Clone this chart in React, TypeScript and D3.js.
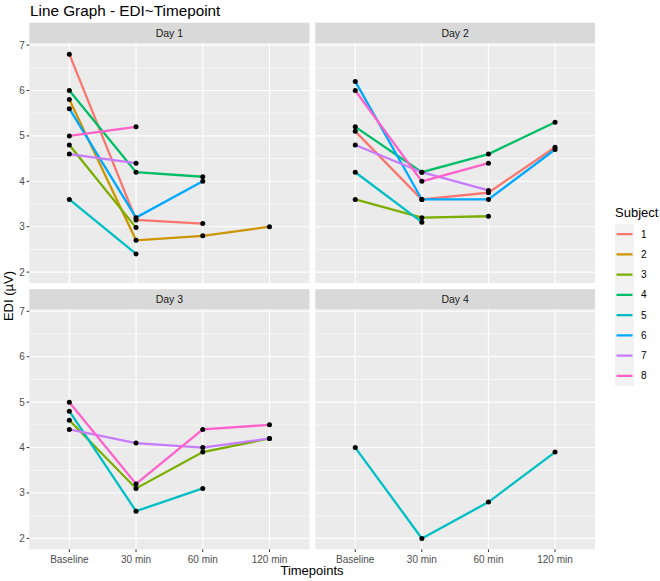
import React from "react";
import * as d3 from "d3";

const timepoints = ["Baseline", "30 min", "60 min", "120 min"];
const subjects = ["1", "2", "3", "4", "5", "6", "7", "8"];
const subjectColors = ["#F8766D", "#CD9600", "#7CAE00", "#00BE67", "#00BFC4", "#00A9FF", "#C77CFF", "#FF61CC"];
const days = ["Day 1", "Day 2", "Day 3", "Day 4"];
const yTicks = [2, 3, 4, 5, 6, 7];

// values per subject (rows) per timepoint (cols); null = missing
const day1Values: (number | null)[][] = [
  [6.8, 3.15, 3.07, null],
  [5.8, 2.7, 2.8, 3.0],
  [4.8, 2.98, null, null],
  [6.0, 4.2, 4.1, null],
  [3.6, 2.4, null, null],
  [5.6, 3.2, 4.0, null],
  [4.6, 4.4, null, null],
  [5.0, 5.2, null, null],
];
const day2Values: (number | null)[][] = [
  [5.1, 3.6, 3.75, 4.75],
  [null, null, null, null],
  [3.6, 3.2, 3.23, null],
  [5.2, 4.2, 4.6, 5.3],
  [4.2, 3.1, null, null],
  [6.2, 3.6, 3.6, 4.7],
  [4.8, 4.2, 3.8, null],
  [6.0, 4.0, 4.4, null],
];
const day3Values: (number | null)[][] = [
  [null, null, null, null],
  [null, null, null, null],
  [4.6, 3.1, 3.9, 4.2],
  [null, null, null, null],
  [4.8, 2.6, 3.1, null],
  [null, null, null, null],
  [4.4, 4.1, 4.0, 4.2],
  [5.0, 3.2, 4.4, 4.5],
];
const day4Values: (number | null)[][] = [
  [null, null, null, null],
  [null, null, null, null],
  [null, null, null, null],
  [null, null, null, null],
  [4.0, 2.0, 2.8, 3.9],
  [null, null, null, null],
  [null, null, null, null],
  [null, null, null, null],
];
const dayValues = [day1Values, day2Values, day3Values, day4Values];

const FONT = "'Liberation Sans', Arial, Helvetica, sans-serif";

const colX = [[29.3, 309.5], [315.3, 595]];
const rowY = [
  { stripTop: 22.7, top: 43.3, bottom: 283 },
  { stripTop: 289.2, top: 309.5, bottom: 549.3 },
];

function Panel({ idx }: { idx: number }) {
  const col = idx % 2;
  const row = Math.floor(idx / 2);
  const [x0, x1] = colX[col];
  const { stripTop, top, bottom } = rowY[row];
  const x = d3.scalePoint<string>().domain(timepoints).range([x0, x1]).padding(0.6);
  const y = d3.scaleLinear().domain([1.76, 7.04]).range([bottom, top]);
  const minor = [2.5, 3.5, 4.5, 5.5, 6.5];
  const values = dayValues[idx];
  const line = d3
    .line<[string, number | null]>()
    .defined((d) => d[1] !== null)
    .x((d) => x(d[0]) as number)
    .y((d) => y(d[1] as number));
  return (
    <g>
      <rect x={x0} y={stripTop} width={x1 - x0} height={top - stripTop} fill="#d9d9d9" />
      <text x={(x0 + x1) / 2} y={(stripTop + top) / 2 + 3.8} textAnchor="middle" fontSize={10.5} fill="#1a1a1a" fontFamily={FONT}>
        {days[idx]}
      </text>
      <rect x={x0} y={top} width={x1 - x0} height={bottom - top} fill="#ebebeb" />
      {minor.map((v) => (
        <line key={"m" + v} x1={x0} x2={x1} y1={y(v)} y2={y(v)} stroke="#fff" strokeWidth={0.55} />
      ))}
      {yTicks.map((v) => (
        <line key={"g" + v} x1={x0} x2={x1} y1={y(v)} y2={y(v)} stroke="#fff" strokeWidth={1.1} />
      ))}
      {timepoints.map((t) => (
        <line key={"v" + t} x1={x(t)} x2={x(t)} y1={top} y2={bottom} stroke="#fff" strokeWidth={1.1} />
      ))}
      {values.map((vals, s) => {
        const pts = timepoints.map((t, i) => [t, vals[i]] as [string, number | null]);
        const present = pts.filter((p) => p[1] !== null);
        if (present.length < 2) return null;
        return (
          <path key={"l" + s} d={line(pts) || ""} fill="none" stroke={subjectColors[s]} strokeWidth={2.3} />
        );
      })}
      {values.map((vals, s) =>
        timepoints.map((t, i) =>
          vals[i] === null ? null : (
            <circle key={"p" + s + "-" + i} cx={x(t)} cy={y(vals[i] as number)} r={2.5} fill="#000" />
          )
        )
      )}
      {col === 0 &&
        yTicks.map((v) => (
          <g key={"yt" + v}>
            <line x1={x0 - 2.7} x2={x0} y1={y(v)} y2={y(v)} stroke="#333" strokeWidth={1} />
            <text x={x0 - 4.5} y={y(v) + 3.5} textAnchor="end" fontSize={10} fill="#4d4d4d" fontFamily={FONT}>
              {v}
            </text>
          </g>
        ))}
      {row === 1 &&
        timepoints.map((t) => (
          <g key={"xt" + t}>
            <line x1={x(t)} x2={x(t)} y1={bottom} y2={bottom + 2.7} stroke="#333" strokeWidth={1} />
            <text x={x(t)} y={bottom + 13.5} textAnchor="middle" fontSize={10} fill="#4d4d4d" fontFamily={FONT}>
              {t}
            </text>
          </g>
        ))}
    </g>
  );
}

export default function App() {
  const legendTop = 224;
  const keyH = 20.25;
  return (
    <svg width={660} height={581} style={{ position: "absolute", left: 0, top: 0, background: "#fff" }}>
      <rect x={0} y={0} width={660} height={581} fill="#fff" />
      <text x={30} y={16} fontSize={15.3} fill="#000" fontFamily={FONT}>
        Line Graph - EDI~Timepoint
      </text>
      {days.map((d, i) => (
        <Panel key={d} idx={i} />
      ))}
      <text x={312} y={575} textAnchor="middle" fontSize={13} fill="#000" fontFamily={FONT}>
        Timepoints
      </text>
      <text transform={`translate(12.5,296) rotate(-90)`} textAnchor="middle" fontSize={13} fill="#000" fontFamily={FONT}>
        EDI (µV)
      </text>
      <text x={615} y={216.5} fontSize={13} fill="#000" fontFamily={FONT}>
        Subject
      </text>
      {subjects.map((s, i) => {
        const yTop = legendTop + i * keyH;
        return (
          <g key={"lg" + s}>
            <rect x={615} y={yTop} width={19} height={keyH} fill="#f2f2f2" />
            <line x1={616.5} x2={632.5} y1={yTop + keyH / 2} y2={yTop + keyH / 2} stroke={subjectColors[i]} strokeWidth={2.3} />
            <text x={641} y={yTop + keyH / 2 + 3.5} fontSize={10} fill="#000" fontFamily={FONT}>
              {s}
            </text>
          </g>
        );
      })}
    </svg>
  );
}
